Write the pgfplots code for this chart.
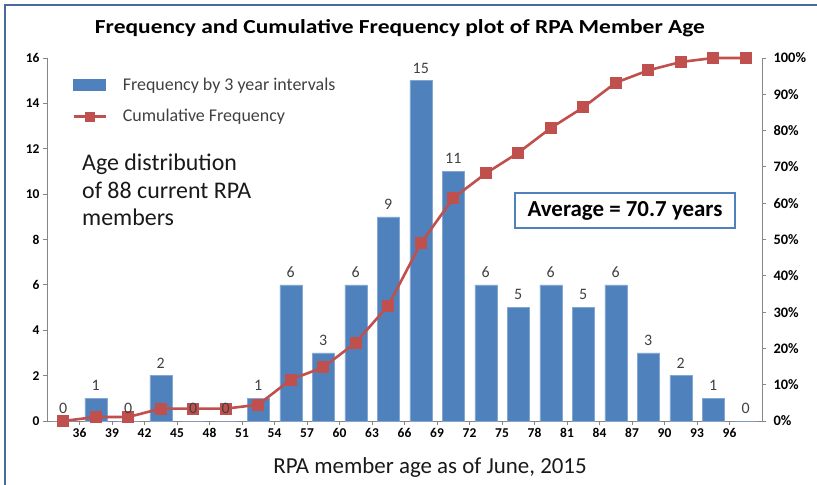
\documentclass[border=0pt]{standalone}
\usepackage{graphicx}
\usepackage{pgfplots}
\pgfplotsset{compat=1.18}
\usepackage{fontspec}
\setmainfont{Carlito}
\definecolor{barblue}{HTML}{4F81BD}
\definecolor{linered}{HTML}{C0504D}
\definecolor{axgray}{HTML}{868686}
\definecolor{frameblue}{HTML}{4A6A9E}
\definecolor{txt}{HTML}{404040}
\pgfplotstableread{
x f
0 0
1 1
2 0
3 2
4 0
5 0
6 1
7 6
8 3
9 6
10 9
11 15
12 11
13 6
14 5
15 6
16 5
17 6
18 3
19 2
20 1
21 0
}\freqdata
\begin{document}
\begin{tikzpicture}
\path[use as bounding box] (0bp,0bp) rectangle (817bp,485bp);
\draw[frameblue, line width=2bp] (5bp,0bp) -- (5bp,480bp) -- (817bp,480bp);
\node[font=\fontsize{20}{24}\selectfont\bfseries] at (400bp,457bp)
  {\resizebox{610bp}{\height}{Frequency and Cumulative Frequency plot of RPA Member Age}};
\begin{axis}[
  at={(47bp,64bp)}, anchor=south west, scale only axis,
  width=715bp, height=363bp,
  xmin=-0.5, xmax=21.5, ymin=0, ymax=16,
  axis x line*=bottom, axis y line*=left,
  xtick={0.5,1.5,...,20.5},
  xticklabels={36,39,42,45,48,51,54,57,60,63,66,69,72,75,78,81,84,87,90,93,96},
  ytick={0,2,...,16},
  tick align=outside, major tick length=4bp,
  axis line style={axgray, line width=0.8bp},
  tick style={axgray, line width=0.8bp},
  /pgf/number format/assume math mode=true,
  ticklabel style={font=\fontsize{13.5}{15}\selectfont\bfseries, black},
  clip=false,
  legend style={draw=none, fill=none, inner sep=0pt, at={(0.035,0.952)}, anchor=north west,
    font=\fontsize{18}{20}\selectfont, text=txt, row sep=14bp,
    /tikz/every odd column/.append style={column sep=14bp}},
  legend cell align=left,
]
\addplot[ybar, bar width=22bp, fill=barblue, draw=barblue!70!white, line width=0.5bp,
  legend image code/.code={\fill[barblue] (0bp,-5.5bp) rectangle (32bp,5.5bp);}]
  table[x=x, y=f] {\freqdata};
\addlegendentry{Frequency by 3 year intervals}
\addlegendimage{legend image code/.code={\draw[linered, line width=2.6bp] (0bp,0bp) -- (32bp,0bp);
   \fill[linered] (11.5bp,-4.6bp) rectangle (20.5bp,4.6bp);}}
\addlegendentry{Cumulative Frequency}
\end{axis}
\begin{axis}[
  at={(47bp,64bp)}, anchor=south west, scale only axis,
  width=715bp, height=363bp,
  xmin=-0.5, xmax=21.5, ymin=0, ymax=100,
  axis x line=none, axis y line*=right,
  ytick={0,10,...,100},
  yticklabel={\pgfmathprintnumber{\tick}\%},
  tick align=outside, major tick length=4bp,
  axis line style={axgray, line width=0.8bp},
  tick style={axgray, line width=0.8bp},
  /pgf/number format/assume math mode=true,
  ticklabel style={font=\fontsize{14.5}{16}\selectfont\bfseries, black},
  yticklabel style={xshift=4bp},
  clip=false,
]
\addplot[linered, line width=2.6bp, mark=square*, mark size=4.7bp]
  coordinates {(0,0) (1,1.1) (2,1.1) (3,3.4) (4,3.4) (5,3.4) (6,4.5) (7,11.4) (8,14.8)
   (9,21.6) (10,31.8) (11,48.9) (12,61.4) (13,68.2) (14,73.9) (15,80.7) (16,86.4)
   (17,93.2) (18,96.6) (19,98.9) (20,100) (21,100)};
\end{axis}
\begin{axis}[
  at={(47bp,64bp)}, anchor=south west, scale only axis,
  width=715bp, height=363bp,
  xmin=-0.5, xmax=21.5, ymin=0, ymax=16,
  hide axis, clip=false,
  /pgf/number format/assume math mode=true,
]
\addplot[ybar, bar width=22bp, draw=none, fill=none,
  nodes near coords,
  every node near coord/.append style={font=\fontsize{16}{18}\selectfont, text=txt, yshift=4bp}]
  table[x=x, y=f] {\freqdata};
\end{axis}
\node[anchor=north west, align=left, inner sep=0pt, font=\fontsize{24}{27.5}\selectfont, text=black!90]
  at (82bp,331bp) {Age distribution\\of 88 current RPA\\members};
\node[draw=barblue, line width=1.2bp, minimum width=220bp, minimum height=35bp,
  font=\fontsize{23}{26}\selectfont\bfseries] at (625bp,274.5bp) {Average = 70.7 years};
\node[font=\fontsize{23}{26}\selectfont, text=black!90] at (430bp,17.5bp) {RPA member age as of June, 2015};
\end{tikzpicture}
\end{document}
